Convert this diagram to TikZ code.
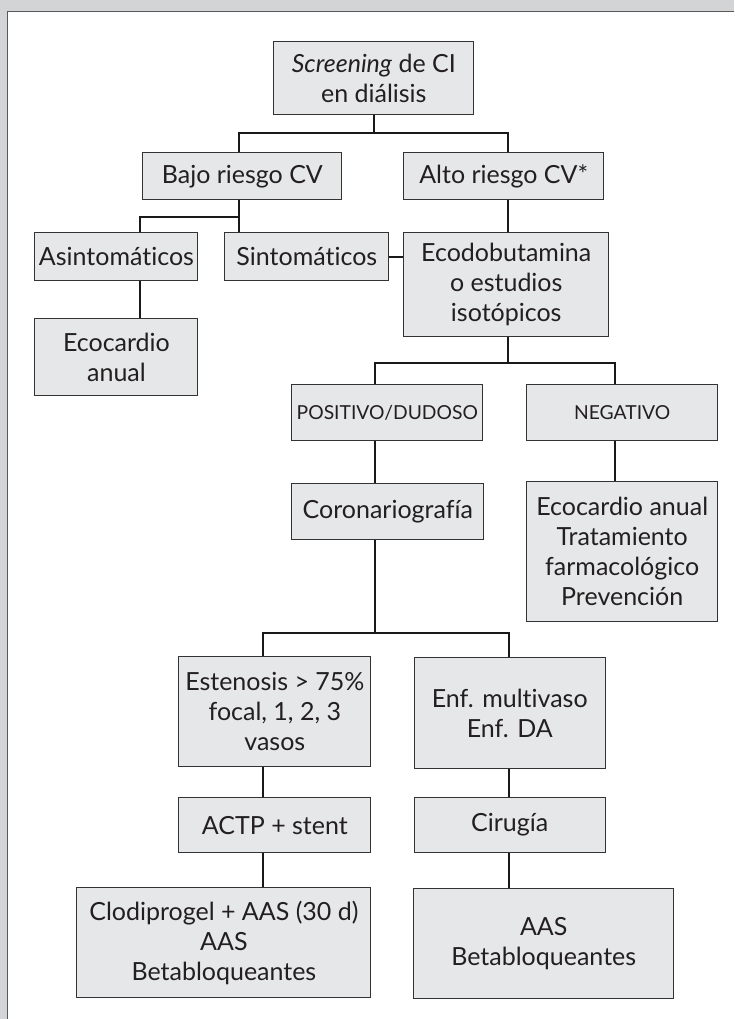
\documentclass[tikz,border=0pt]{standalone}
\usepackage{fontspec}
\setmainfont[Ligatures=NoCommon]{Lato}
\usetikzlibrary{positioning, calc}

\definecolor{boxgray}{HTML}{E6E7E8}
\definecolor{framegray}{HTML}{D3D4D6}
\definecolor{inkgray}{HTML}{231F20}

\begin{document}
\begin{tikzpicture}[
        x=1pt, y=-1pt,
        box/.style={rectangle, draw=black!80, line width=1pt, fill=boxgray, text=inkgray, align=center, inner sep=0pt, font=\fontsize{25}{30}\selectfont},
        tag/.style={box, font=\fontsize{19.3}{23}\selectfont},
        link/.style={line width=2pt, color=black!90}
    ]

    % Frame
    \fill[framegray] (0,0) rectangle (734,1019);
    \fill[white] (8,12) rectangle (734,1019);
    \draw[black!65, line width=1pt] (8,1019) -- (8,12) -- (734,12);

    % Nodes
    \node[box, minimum width=200pt, minimum height=73pt] (screen) at (374,78.5) {\textit{Screening} de CI\\ en diálisis};
    \node[box, minimum width=199pt, minimum height=47pt] (bajo) at (242.5,176.5) {Bajo riesgo CV};
    \node[box, minimum width=200pt, minimum height=47pt] (alto) at (504,176.5) {Alto riesgo CV*};
    \node[box, minimum width=163pt, minimum height=48pt] (asin) at (116.5,257) {Asintomáticos};
    \node[box, minimum width=164pt, minimum height=48pt] (sint) at (307,257) {Sintomáticos};
    \node[box, minimum width=205pt, minimum height=104pt] (ecodob) at (506.5,285) {Ecodobutamina\\ o estudios\\ isotópicos};
    \node[box, minimum width=163pt, minimum height=77pt] (ecoanual) at (116.5,357.5) {Ecocardio\\ anual};
    \node[tag, minimum width=191pt, minimum height=56pt] (posit) at (387.5,413) {POSITIVO/DUDOSO};
    \node[tag, minimum width=191pt, minimum height=56pt] (negat) at (622.5,413) {NEGATIVO};
    \node[box, minimum width=192pt, minimum height=56pt] (corona) at (388,512) {Coronariografía};
    \node[box, minimum width=191pt, minimum height=140pt] (negres) at (622.5,552) {Ecocardio anual\\ Tratamiento\\ farmacológico\\ Prevención};
    \node[box, minimum width=192pt, minimum height=110pt] (esten) at (275,712) {Estenosis > 75\%\\ focal, 1, 2, 3\\ vasos};
    \node[box, minimum width=191pt, minimum height=111pt] (multi) at (510,713.5) {Enf. multivaso\\ Enf. DA};
    \node[box, minimum width=192pt, minimum height=55pt] (actp) at (275,825.5) {ACTP + stent};
    \node[box, minimum width=191pt, minimum height=55pt] (ciru) at (510,825.5) {Cirugía};
    \node[box, minimum width=294pt, minimum height=110pt] (clodi) at (224,943) {Clodiprogel + AAS (30 d)\\ AAS\\ Betabloqueantes};
    \node[box, minimum width=260pt, minimum height=110pt] (aas) at (544,944) {AAS\\ Betabloqueantes};

    % Connections
    \coordinate (t1) at (374,133);
    \draw[link] (screen.south) -- (t1);
    \draw[link] ([xshift=-3.5pt]bajo.north) |- (t1) -| ([xshift=4pt]alto.north);

    \coordinate (t2) at (239,217);
    \draw[link] (bajo.south -| t2) -- (sint.north -| t2);
    \draw[link] (t2) -| ([xshift=23.5pt]asin.north);
    \draw[link] ([xshift=23.5pt]asin.south) -- ([xshift=23.5pt]ecoanual.north);
    \draw[link] (sint.east) -- (sint.east -| ecodob.west);
    \draw[link] ([xshift=4pt]alto.south) -- ([xshift=1.5pt]ecodob.north);

    \coordinate (t3) at (508,363);
    \draw[link] ([xshift=1.5pt]ecodob.south) -- (t3);
    \draw[link] ([xshift=-12.5pt]posit.north) |- (t3) -| ([xshift=-7.5pt]negat.north);
    \draw[link] ([xshift=-12.5pt]posit.south) -- ([xshift=-13pt]corona.north);
    \draw[link] ([xshift=-7.5pt]negat.south) -- ([xshift=-7.5pt]negres.north);

    \coordinate (t4) at (375,633);
    \draw[link] ([xshift=-13pt]corona.south) -- (t4);
    \draw[link] ([xshift=-12pt]esten.north) |- (t4) -| ([xshift=-1pt]multi.north);
    \draw[link] ([xshift=-12pt]esten.south) -- ([xshift=-12pt]actp.north);
    \draw[link] ([xshift=-12pt]actp.south) -- ([xshift=39pt]clodi.north);
    \draw[link] ([xshift=-1pt]multi.south) -- ([xshift=-1pt]ciru.north);
    \draw[link] ([xshift=-1pt]ciru.south) -- ([xshift=-35pt]aas.north);

\end{tikzpicture}
\end{document}
